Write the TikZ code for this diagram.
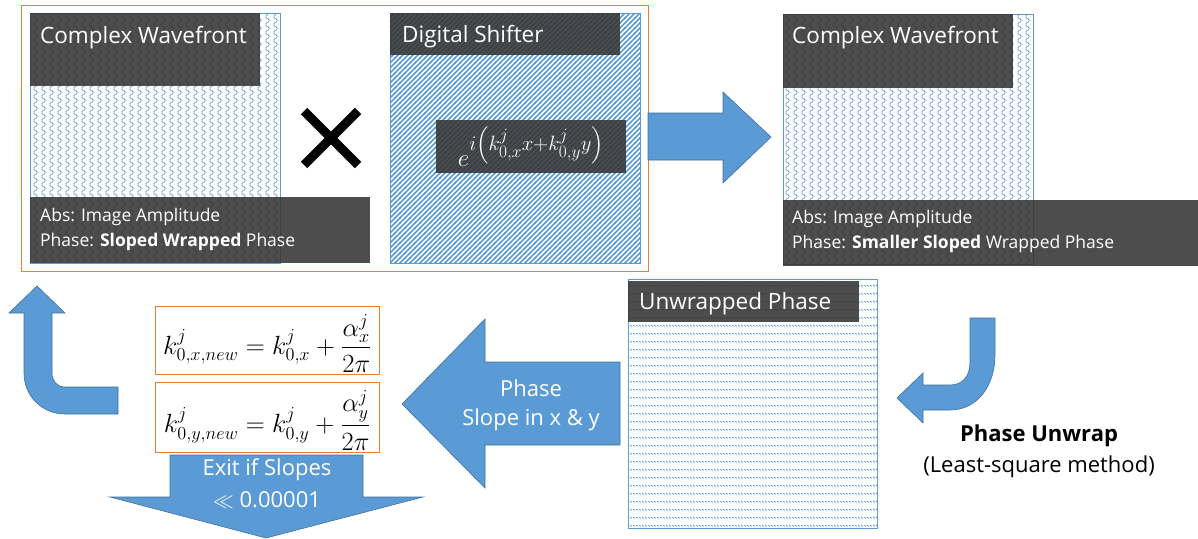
\documentclass[tikz,border=0pt]{standalone}
\usepackage{amsmath}
\usepackage{fontspec}
\setmainfont{Open Sans}
\usetikzlibrary{patterns}

\definecolor{arrowblue}{RGB}{91,155,213}
\definecolor{arrowedge}{RGB}{65,113,156}
\definecolor{frameorange}{RGB}{237,125,49}
\definecolor{barblack}{RGB}{52,52,52}

% fill patterns of the panels
\pgfdeclarepatternformonly{scallops}{\pgfpoint{-1pt}{-1pt}}{\pgfpoint{9pt}{9pt}}{\pgfpoint{8pt}{8pt}}{%
  \pgfsetlinewidth{0.7pt}%
  \pgfpathmoveto{\pgfpoint{2pt}{8pt}}%
  \pgfpathcurveto{\pgfpoint{6pt}{7pt}}{\pgfpoint{6pt}{5pt}}{\pgfpoint{4pt}{4pt}}%
  \pgfpathcurveto{\pgfpoint{2pt}{3pt}}{\pgfpoint{1pt}{1pt}}{\pgfpoint{2pt}{0pt}}%
  \pgfusepath{stroke}}
\pgfdeclarepatternformonly{shiftstripes}{\pgfpoint{-1pt}{-1pt}}{\pgfpoint{6pt}{6pt}}{\pgfpoint{5pt}{5pt}}{%
  \pgfsetlinewidth{1.6pt}%
  \pgfpathmoveto{\pgfpoint{-0.5pt}{-0.5pt}}%
  \pgfpathlineto{\pgfpoint{5.5pt}{5.5pt}}%
  \pgfusepath{stroke}}
\pgfdeclarepatternformonly{wavyrows}{\pgfpoint{-1pt}{-1pt}}{\pgfpoint{4pt}{9pt}}{\pgfpoint{3pt}{8pt}}{%
  \pgfsetlinewidth{0.7pt}%
  \pgfpathmoveto{\pgfpoint{0pt}{5pt}}%
  \pgfpathlineto{\pgfpoint{2pt}{3.5pt}}%
  \pgfusepath{stroke}}

\begin{document}
\begin{tikzpicture}[
    x = 1pt, y = -1pt, % pixel grid, y downwards
    panel/.style = {draw = arrowblue, line width = 0.6pt, pattern color = arrowblue,
                    anchor = north west, inner sep = 0pt},
    darkbar/.style = {fill = barblack, fill opacity = 0.88, anchor = north west, inner sep = 0pt},
    bartext/.style = {text = white, anchor = base west, inner sep = 0pt},
    titlefont/.style = {font = \fontsize{22.5}{27}\selectfont},
    notefont/.style = {font = \fontsize{17.5}{21}\selectfont},
    blockarrow/.style = {fill = arrowblue, draw = arrowedge, line width = 0.6pt},
    arrowtext/.style = {text = white, font = \fontsize{22}{26}\selectfont, inner sep = 0pt},
    eqbox/.style = {draw = frameorange, fill = white, line width = 0.8pt, anchor = north west,
                    inner sep = 0pt}
  ]
  \useasboundingbox (0,0) rectangle (1198,538);

  % input stage
  \node[draw = frameorange, line width = 0.8pt, anchor = north west, inner sep = 0pt,
        minimum width = 627, minimum height = 266] (stage) at (21,5) {};

  \node[panel, pattern = scallops, minimum width = 250, minimum height = 250] (wavein) at (30,13) {};
  \node[darkbar, minimum width = 230, minimum height = 73] (waveintitle) at (30,13) {};
  \node[darkbar, minimum width = 340, minimum height = 66] (waveinnote) at (30,197) {};
  \node[bartext, titlefont] at (40,43) {Complex Wavefront};
  \node[bartext, notefont] at (40,221) {Abs: Image Amplitude};
  \node[bartext, notefont] at (40,246) {Phase: \textbf{Sloped Wrapped} Phase};

  \draw[line width = 9pt] (304,111) -- (358,165);
  \draw[line width = 9pt] (358,111) -- (304,165);

  \node[panel, pattern = shiftstripes, minimum width = 250, minimum height = 250] (shifter) at (390,13) {};
  \node[darkbar, minimum width = 230, minimum height = 42] (shiftertitle) at (390,13) {};
  \node[bartext, titlefont] at (402,42) {Digital Shifter};
  \node[darkbar, minimum width = 190, minimum height = 53] (shifterexp) at (436,120) {};
  \node[text = white, font = \Huge, inner sep = 0pt]
    at (shifterexp.center) {$e^{i\left(k^{j}_{0,x}x+k^{j}_{0,y}y\right)}$};

  % shifted result
  \node[panel, pattern = scallops, minimum width = 250, minimum height = 250] (waveout) at (783,14) {};
  \node[darkbar, minimum width = 230, minimum height = 74] (waveouttitle) at (783,14) {};
  \node[darkbar, minimum width = 415, minimum height = 66] (waveoutnote) at (783,200) {};
  \node[bartext, titlefont] at (792,43) {Complex Wavefront};
  \node[bartext, notefont] at (792,223) {Abs: Image Amplitude};
  \node[bartext, notefont] at (792,248) {Phase: \textbf{Smaller Sloped} Wrapped Phase};

  % unwrapped phase
  \node[panel, pattern = wavyrows, minimum width = 249, minimum height = 249] (unwrap) at (628,279) {};
  \node[darkbar, minimum width = 231, minimum height = 41] (unwraptitle) at (628,281) {};
  \node[bartext, titlefont] at (639,309) {Unwrapped Phase};

  % slope update
  \node[eqbox, minimum width = 224, minimum height = 68] (updatex) at (155,306) {};
  \node[eqbox, minimum width = 224, minimum height = 70] (updatey) at (155,382) {};
  \node[font = \huge, inner sep = 0pt] at ([yshift = -3pt]updatex.center)
    {\scalebox{1.27}{$k^{j}_{0,x,new}=k^{j}_{0,x}+\dfrac{\alpha^{j}_{x}}{2\pi}$}};
  \node[font = \huge, inner sep = 0pt] at ([yshift = -3pt]updatey.center)
    {\scalebox{1.27}{$k^{j}_{0,y,new}=k^{j}_{0,y}+\dfrac{\alpha^{j}_{y}}{2\pi}$}};

  % block arrows
  \draw[blockarrow] (648,113) -- (723,113) -- (723,92) -- (771,137) -- (723,183)
    -- (723,160) -- (648,160) -- cycle;
  \draw[blockarrow] (620,362) -- (485,362) -- (485,319) -- (402,404) -- (485,488)
    -- (485,445) -- (620,445) -- cycle;
  \node[arrowtext] at (531,388) {Phase};
  \node[arrowtext] at (531,420) {Slope in x \& y};

  \draw[blockarrow] (170,455) -- (363,455) -- (363,497) -- (423,497) -- (266,538)
    -- (110,497) -- (170,497) -- cycle;
  \node[arrowtext] at (267,470) {Exit if Slopes};
  \node[arrowtext] at (267,500) {$\ll$ 0.00001};

  \draw[blockarrow] (970,318) -- (995,318) -- (995,355)
    .. controls (995,385) and (978,410) .. (950,410) -- (923,410) -- (923,423)
    -- (897,398) -- (923,373) -- (923,385) -- (950,385)
    .. controls (962,385) and (970,377) .. (970,362) -- cycle;
  \node[font = \fontsize{22}{26}\selectfont\bfseries, inner sep = 0pt] (unwraplabel) at (1039,436) {Phase Unwrap};
  \node[font = \fontsize{22}{26}\selectfont, inner sep = 0pt] at (1039,467) {(Least-square method)};

  \draw[blockarrow] (37,286) -- (65,313) -- (52,313) -- (52,373)
    .. controls (52,381) and (57,387) .. (65,387) -- (118,387) -- (118,414) -- (65,414)
    .. controls (42,414) and (24,396) .. (24,373) -- (24,313) -- (9,313) -- cycle;
\end{tikzpicture}
\end{document}
